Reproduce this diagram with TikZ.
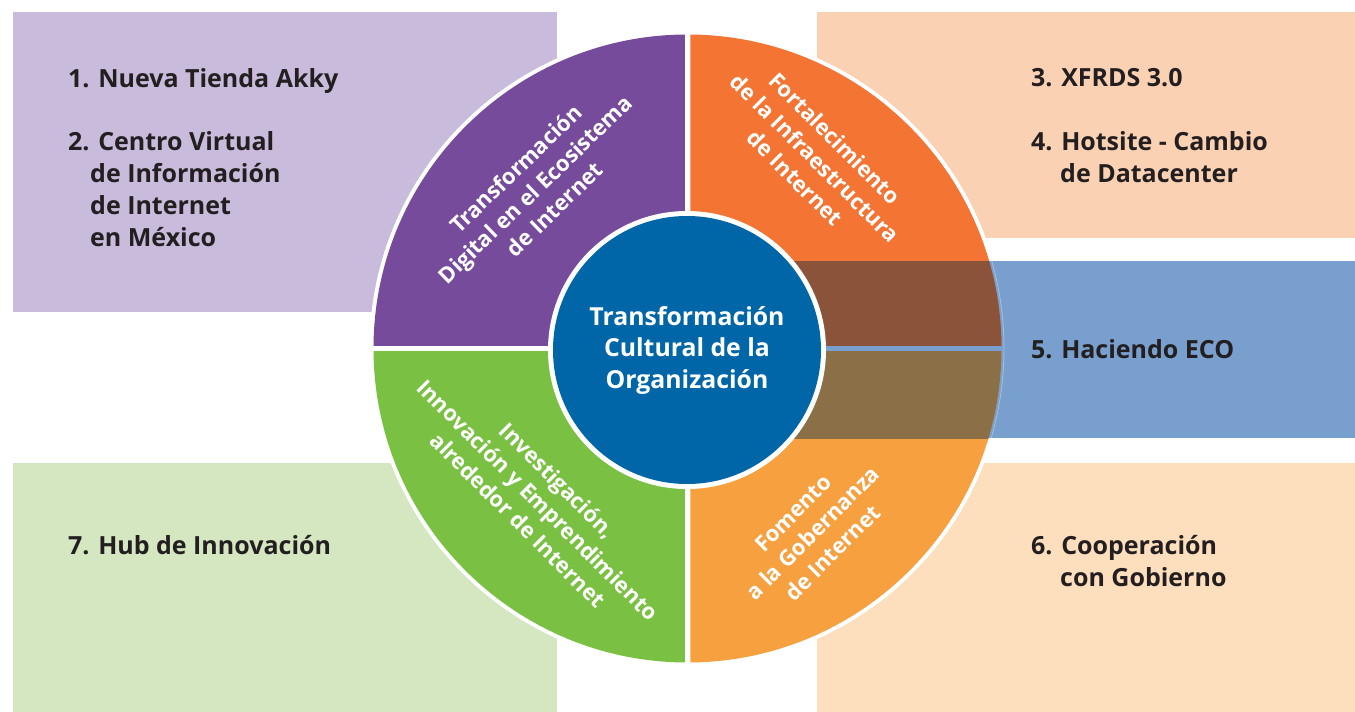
\documentclass[tikz,border=0pt]{standalone}
\usepackage{fontspec}
\setmainfont{Open Sans}
\definecolor{lav}{HTML}{C8BBDB}
\definecolor{peach}{HTML}{FBD1B3}
\definecolor{lpeach}{HTML}{FDDEBD}
\definecolor{lgreen}{HTML}{D4E7C1}
\definecolor{band}{HTML}{789FCD}
\definecolor{qpurple}{HTML}{764B9B}
\definecolor{qorange}{HTML}{F37433}
\definecolor{qlorange}{HTML}{F7A040}
\definecolor{qgreen}{HTML}{7AC143}
\definecolor{qbrown}{HTML}{8B5339}
\definecolor{qolive}{HTML}{8A6F47}
\definecolor{core}{HTML}{0066A8}
\definecolor{ink}{HTML}{231F20}
\begin{document}
\begin{tikzpicture}[x=1pt,y=-1pt,
  item/.style={anchor=base west, inner sep=0pt, text=ink, font=\fontsize{25}{32}\selectfont\bfseries},
  qlabel/.style={align=center, inner sep=0pt, text=white, font=\fontsize{22}{28}\selectfont\bfseries},
  corelabel/.style={align=center, inner sep=0pt, text=white, font=\fontsize{24.8}{31.5}\selectfont\bfseries}]
\useasboundingbox (0,0) rectangle (1355,712);
\coordinate (c) at (687.5,348.5);
\coordinate (ic) at (687,350);
% background boxes
\fill[lav] (13,12) rectangle (557,312);
\fill[peach] (817,12) rectangle (1355,238);
\fill[lpeach] (817,463) rectangle (1355,712);
\fill[lgreen] (13,463) rectangle (557,712);
% white rim of the wheel
\fill[white] (c) circle (318pt);
% blue band
\fill[band] (700,261) rectangle (1355,438);
% quadrants
\begin{scope}\clip (300,0) rectangle (684.75,345.75); \fill[qpurple] (c) circle (314pt); \end{scope}
\begin{scope}\clip (690.25,0) rectangle (1100,345.75); \fill[qorange] (c) circle (314pt); \end{scope}
\begin{scope}\clip (300,351.25) rectangle (684.75,700); \fill[qgreen] (c) circle (314pt); \end{scope}
\begin{scope}\clip (690.25,351.25) rectangle (1100,700); \fill[qlorange] (c) circle (314pt); \end{scope}
% band over the right quadrants
\begin{scope}\clip (690.25,261) rectangle (1100,345.75); \fill[qbrown] (c) circle (314pt); \end{scope}
\begin{scope}\clip (690.25,351.25) rectangle (1100,438); \fill[qolive] (c) circle (314pt); \end{scope}
\begin{scope}\clip (900,261) rectangle (1100,438); \draw[white, opacity=.35, line width=.8pt] (c) circle (316.5pt); \end{scope}
% core
\fill[white] (ic) circle (139pt);
\fill[core] (ic) circle (134pt);
\node[corelabel] (core) at (687,350) {Transformación\\Cultural de la\\Organización};
% quadrant labels
\node[qlabel, rotate=44] (q1) at (535,189) {Transformación\\Digital en el Ecosistema\\de Internet};
\node[qlabel, rotate=-45] (q2) at (815,158) {Fortalecimiento\\de la Infraestructura\\de Internet};
\node[qlabel, rotate=-45] (q3) at (538,500) {Investigación,\\Innovación y Emprendimiento\\alrededor de Internet};
\node[qlabel, rotate=45] (q4) at (813,533) {Fomento\\a la Gobernanza\\de Internet};
% items
\node[item] (i1) at (68,87) {1. Nueva Tienda Akky};
\node[item] (i2a) at (68,150) {2. Centro Virtual};
\node[item] (i2b) at (90,182) {de Información};
\node[item] (i2c) at (90,214) {de Internet};
\node[item] (i2d) at (90,246) {en México};
\node[item] (i3) at (1031,86) {3. XFRDS 3.0};
\node[item] (i4a) at (1031,150) {4. Hotsite - Cambio};
\node[item] (i4b) at (1060,182) {de Datacenter};
\node[item] (i5) at (1031,358) {5. Haciendo ECO};
\node[item] (i6a) at (1031,554) {6. Cooperación};
\node[item] (i6b) at (1060,586) {con Gobierno};
\node[item] (i7) at (68,554) {7. Hub de Innovación};
\end{tikzpicture}
\end{document}
